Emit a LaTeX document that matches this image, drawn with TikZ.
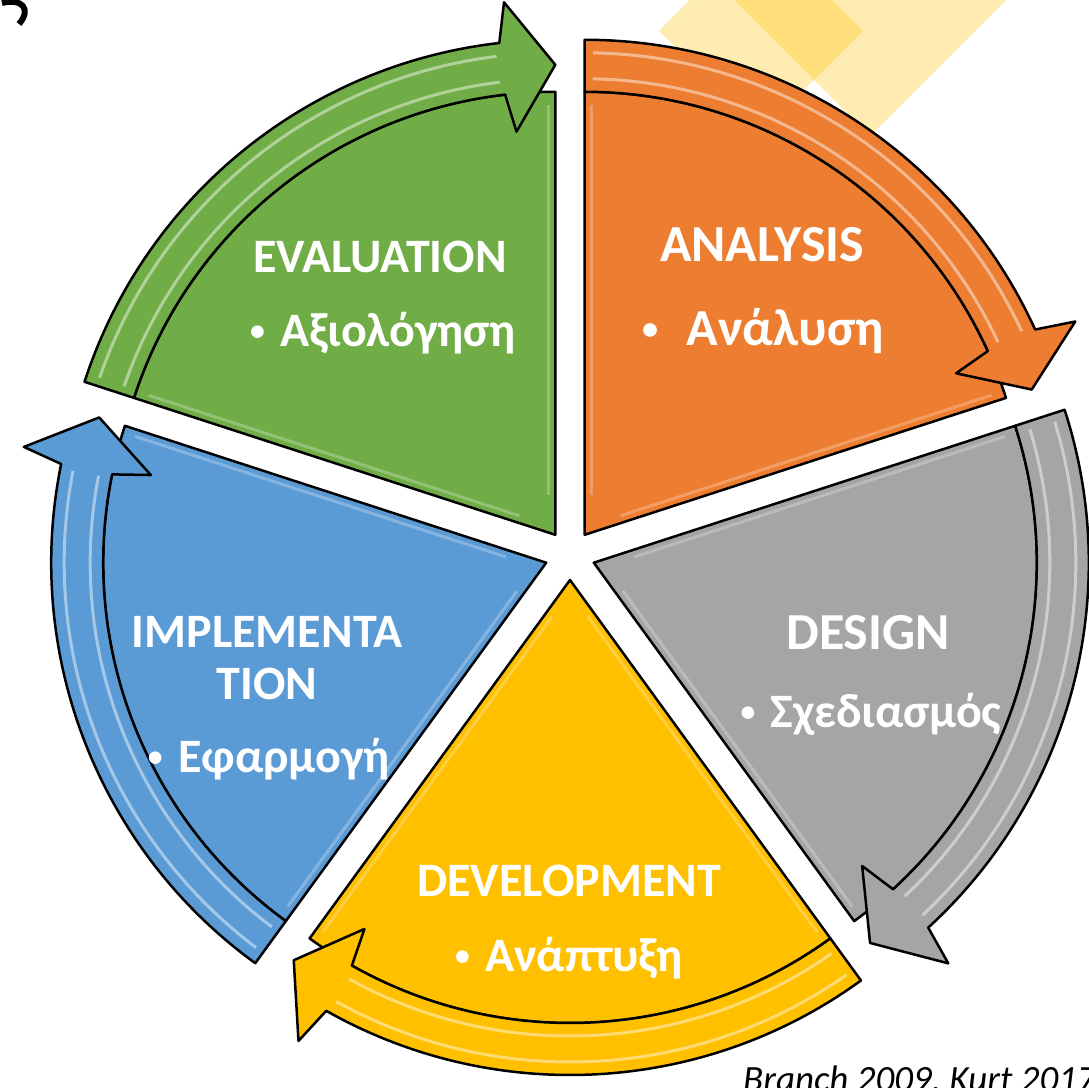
\documentclass[tikz,border=0pt]{standalone}
\usepackage{fontspec}
\usepackage{graphicx}
\setmainfont{Carlito}
\definecolor{cOrange}{HTML}{ED7D31}
\definecolor{cGrey}{HTML}{A5A5A5}
\definecolor{cYellow}{HTML}{FFC000}
\definecolor{cBlue}{HTML}{5B9BD5}
\definecolor{cGreen}{HTML}{70AD47}
\definecolor{cDiam}{HTML}{FFC000}
\def\Ri{443pt}
\def\Ro{495pt}
\newcommand\bul{\raisebox{6pt}{\scalebox{0.62}{•}}}
\newcommand\pieseg[3]{%
\begin{scope}[shift={#1}]
\pgfmathsetmacro\segE{#2-72}
\pgfmathsetmacro\segJ{#2-72+6.5}
\pgfmathsetmacro\segB{#2-72+5.5}
\pgfmathsetmacro\segH{#2-72+7}
\pgfmathsetmacro\segS{#2-1}
\pgfmathsetmacro\segP{#2-90}
\pgfmathsetmacro\segQ{#2-72+90}
\draw[outl,fill=#3] (0,0) -- (#2:\Ri) arc[start angle=#2,end angle=\segE,radius=\Ri] -- cycle;
\draw[hlb] ([shift={(\segP:7pt)}]#2:40pt) -- ([shift={(\segP:7pt)}]#2:430pt);
\draw[hlb] ([shift={(\segQ:7pt)}]\segE:40pt) -- ([shift={(\segQ:7pt)}]\segE:430pt);
\draw[outl,fill=#3] (#2:\Ro) arc[start angle=#2,end angle=\segJ,radius=\Ro] -- (\segB:535pt) -- (\segE:470pt) -- (\segB:405pt) -- (\segJ:\Ri) arc[start angle=\segJ,end angle=#2,radius=\Ri] -- cycle;
\draw[hl] (\segS:456pt) arc[start angle=\segS,end angle=\segH,radius=456pt];
\draw[hl] (\segS:482pt) arc[start angle=\segS,end angle=\segH,radius=482pt];
\end{scope}}
\begin{document}
\begin{tikzpicture}[x=1pt,y=1pt,
  outl/.style={draw=black,line width=2.5pt,line join=round},
  hl/.style={draw=white,opacity=0.45,line width=3pt},
  hlb/.style={draw=white,opacity=0.25,line width=3pt},
  diam/.style={fill=cDiam,fill opacity=0.3},
  lbl/.style={text=white,font=\bfseries\fontsize{48}{58}\selectfont,inner sep=0pt,anchor=base},
  lblb/.style={text=white,font=\bfseries\fontsize{52}{62}\selectfont,inner sep=0pt,anchor=base}]
\useasboundingbox (0,0) rectangle (1089,1087);
\clip (0,0) rectangle (1089,1087);
% background diamonds
\fill[diam] (659,1056) -- (761,1158) -- (863,1056) -- (761,954) -- cycle;
\fill[diam] (720,1101) -- (870,1251) -- (1020,1101) -- (870,951) -- cycle;
% cut-off glyph at top left
\draw[line width=6pt] (2,1084) .. controls (22,1089) and (32,1078) .. (19,1063);
% segments
\pieseg{(555.3,552.2)}{162}{cGreen}
\pieseg{(546.2,524.3)}{234}{cBlue}
\pieseg{(570,507)}{306}{cYellow}
\pieseg{(593.8,524.3)}{18}{cGrey}
\pieseg{(584.7,552.2)}{90}{cOrange}
% labels
\node[lbl] (evalT) at (380,814) {EVALUATION};
\node[lbl] (evalB) at (383,740) {\bul\hspace{0.32em}Αξιολόγηση};
\node[lblb] (anaT) at (762,825) {ANALYSIS};
\node[lblb] (anaB) at (763,741) {\bul\hspace{0.55em}Ανάλυση};
\node[lblb] (desT) at (868,437) {DESIGN};
\node[lbl] (desB) at (871,359) {\bul\hspace{0.32em}Σχεδιασμός};
\node[lbl] (impT) at (267,439) {IMPLEMENTA};
\node[lbl] (impT2) at (267,387) {TION};
\node[lbl] (impB) at (269,314) {\bul\hspace{0.32em}Εφαρμογή};
\node[lbl] (devT) at (569,190) {DEVELOPMENT};
\node[lbl] (devB) at (569,116) {\bul\hspace{0.32em}Ανάπτυξη};
\node[font=\itshape\fontsize{37}{43}\selectfont,anchor=base west,inner sep=0pt] (src) at (743,-4) {Branch 2009, Kurt 2017};
\end{tikzpicture}
\end{document}
